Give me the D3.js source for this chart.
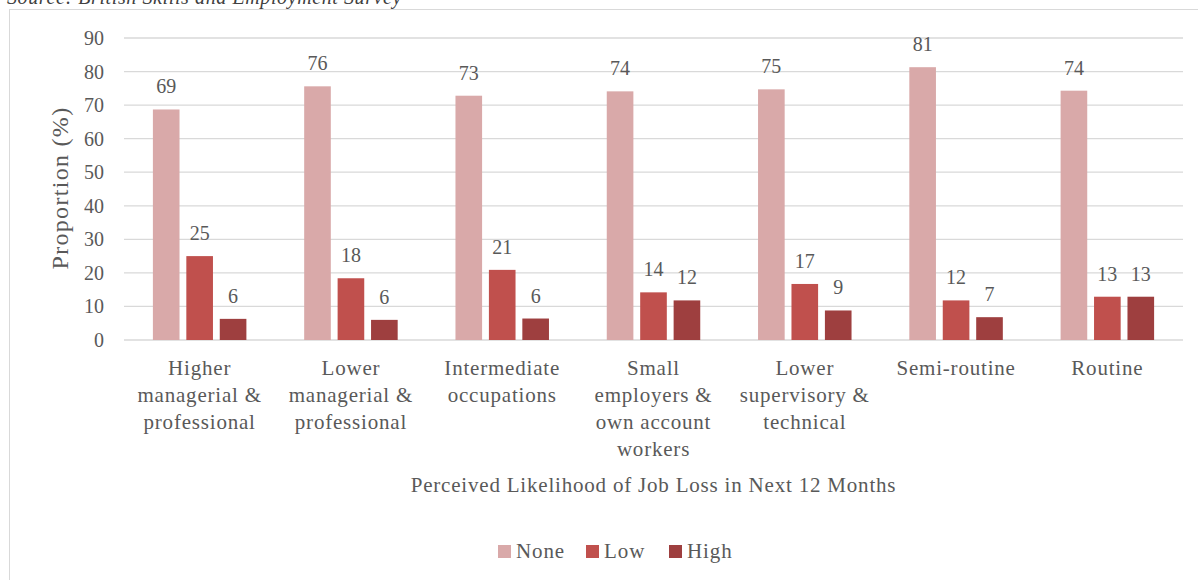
<!DOCTYPE html>
<html>
<head>
<meta charset="utf-8">
<script src="https://cdn.jsdelivr.net/npm/d3@7"></script>
<style>
  body { margin: 0; background: #fff; }
  svg { display: block; font-family: "Liberation Serif", serif; }
</style>
</head>
<body>
<script>
// chart values
const categories = ["Higher managerial & professional", "Lower managerial & professional", "Intermediate occupations",
  "Small employers & own account workers", "Lower supervisory & technical", "Semi-routine", "Routine"];
const categoryLines = [
  ["Higher", "managerial &", "professional"],
  ["Lower", "managerial &", "professional"],
  ["Intermediate", "occupations"],
  ["Small", "employers &", "own account", "workers"],
  ["Lower", "supervisory &", "technical"],
  ["Semi-routine"],
  ["Routine"]
];
const seriesNames = ["None", "Low", "High"];
const noneValues = [68.7, 75.6, 72.8, 74.1, 74.7, 81.3, 74.3];
const lowValues = [25.0, 18.4, 20.9, 14.2, 16.7, 11.8, 12.9];
const highValues = [6.3, 6.0, 6.4, 11.8, 8.8, 6.8, 12.9];
const yTicks = [0, 10, 20, 30, 40, 50, 60, 70, 80, 90];

const colors = ["#D9A9A9", "#C0504D", "#9E3F3F"];
const textColor = "#595959";

const width = 1198, height = 580;
const margin = { left: 124, right: 15, top: 38, bottom: 240 };

const svg = d3.select("body").append("svg")
  .attr("width", width)
  .attr("height", height);

// outer frame
svg.append("rect")
  .attr("x", 9.5).attr("y", 9.5)
  .attr("width", 1200).attr("height", 600)
  .attr("fill", "none")
  .attr("stroke", "#d9d9d9");

// source note (cut off at top, as in the original)
svg.append("text")
  .attr("x", 7).attr("y", 4)
  .attr("font-style", "italic")
  .attr("font-size", 20)
  .attr("letter-spacing", 0.6)
  .attr("fill", "#404040")
  .text("Source: British Skills and Employment Survey");

const x0 = d3.scaleBand()
  .domain(categories)
  .range([margin.left, width - margin.right])
  .paddingInner(0)
  .paddingOuter(0);

const y = d3.scaleLinear()
  .domain([0, 90])
  .range([340, 38]);

const bw = x0.bandwidth() * 0.176;
const gap = x0.bandwidth() * 0.045;

// gridlines
svg.append("g")
  .selectAll("line")
  .data(yTicks)
  .join("line")
  .attr("x1", margin.left).attr("x2", width - margin.right)
  .attr("y1", d => y(d)).attr("y2", d => y(d))
  .attr("stroke", "#d9d9d9")
  .attr("stroke-width", 1.3);

// y tick labels
svg.append("g")
  .selectAll("text")
  .data(yTicks)
  .join("text")
  .attr("x", 104)
  .attr("y", d => y(d))
  .attr("dy", "0.35em")
  .attr("text-anchor", "end")
  .attr("font-size", 20)
  .attr("fill", textColor)
  .text(d => d);

// y axis title
svg.append("text")
  .attr("transform", "translate(68,188) rotate(-90)")
  .attr("text-anchor", "middle")
  .attr("font-size", 24)
  .attr("letter-spacing", 1.3)
  .attr("fill", textColor)
  .text("Proportion (%)");

const series = [noneValues, lowValues, highValues];

series.forEach((vals, s) => {
  const offset = (s - 1) * (bw + gap);
  const g = svg.append("g");
  g.selectAll("rect")
    .data(vals)
    .join("rect")
    .attr("x", (d, i) => x0(categories[i]) + x0.bandwidth() / 2 + offset - bw / 2)
    .attr("y", d => y(d))
    .attr("width", bw)
    .attr("height", d => y(0) - y(d))
    .attr("fill", colors[s]);
  g.selectAll("text")
    .data(vals)
    .join("text")
    .attr("x", (d, i) => x0(categories[i]) + x0.bandwidth() / 2 + offset)
    .attr("y", d => y(d) - 16)
    .attr("text-anchor", "middle")
    .attr("font-size", 20)
    .attr("fill", textColor)
    .text(d => Math.round(d));
});

// category labels
const catG = svg.append("g")
  .selectAll("text")
  .data(categoryLines)
  .join("text")
  .attr("text-anchor", "middle")
  .attr("font-size", 21)
  .attr("letter-spacing", 0.8)
  .attr("fill", textColor);
catG.selectAll("tspan")
  .data((d, i) => d.map(t => ({ t, i })))
  .join("tspan")
  .attr("x", d => x0(categories[d.i]) + x0.bandwidth() / 2)
  .attr("y", (d, j) => 375 + j * 27)
  .text(d => d.t);

// x axis title
svg.append("text")
  .attr("x", (margin.left + width - margin.right) / 2)
  .attr("y", 492)
  .attr("text-anchor", "middle")
  .attr("font-size", 21)
  .attr("letter-spacing", 0.8)
  .attr("fill", textColor)
  .text("Perceived Likelihood of Job Loss in Next 12 Months");

// legend
const legendX = [498, 586, 669];
const legend = svg.append("g")
  .selectAll("g")
  .data(seriesNames)
  .join("g")
  .attr("transform", (d, i) => `translate(${legendX[i]},545)`);
legend.append("rect")
  .attr("width", 13).attr("height", 13)
  .attr("fill", (d, i) => colors[i]);
legend.append("text")
  .attr("x", 18).attr("y", 13)
  .attr("font-size", 21)
  .attr("letter-spacing", 0.9)
  .attr("fill", textColor)
  .text(d => d);
</script>
</body>
</html>
